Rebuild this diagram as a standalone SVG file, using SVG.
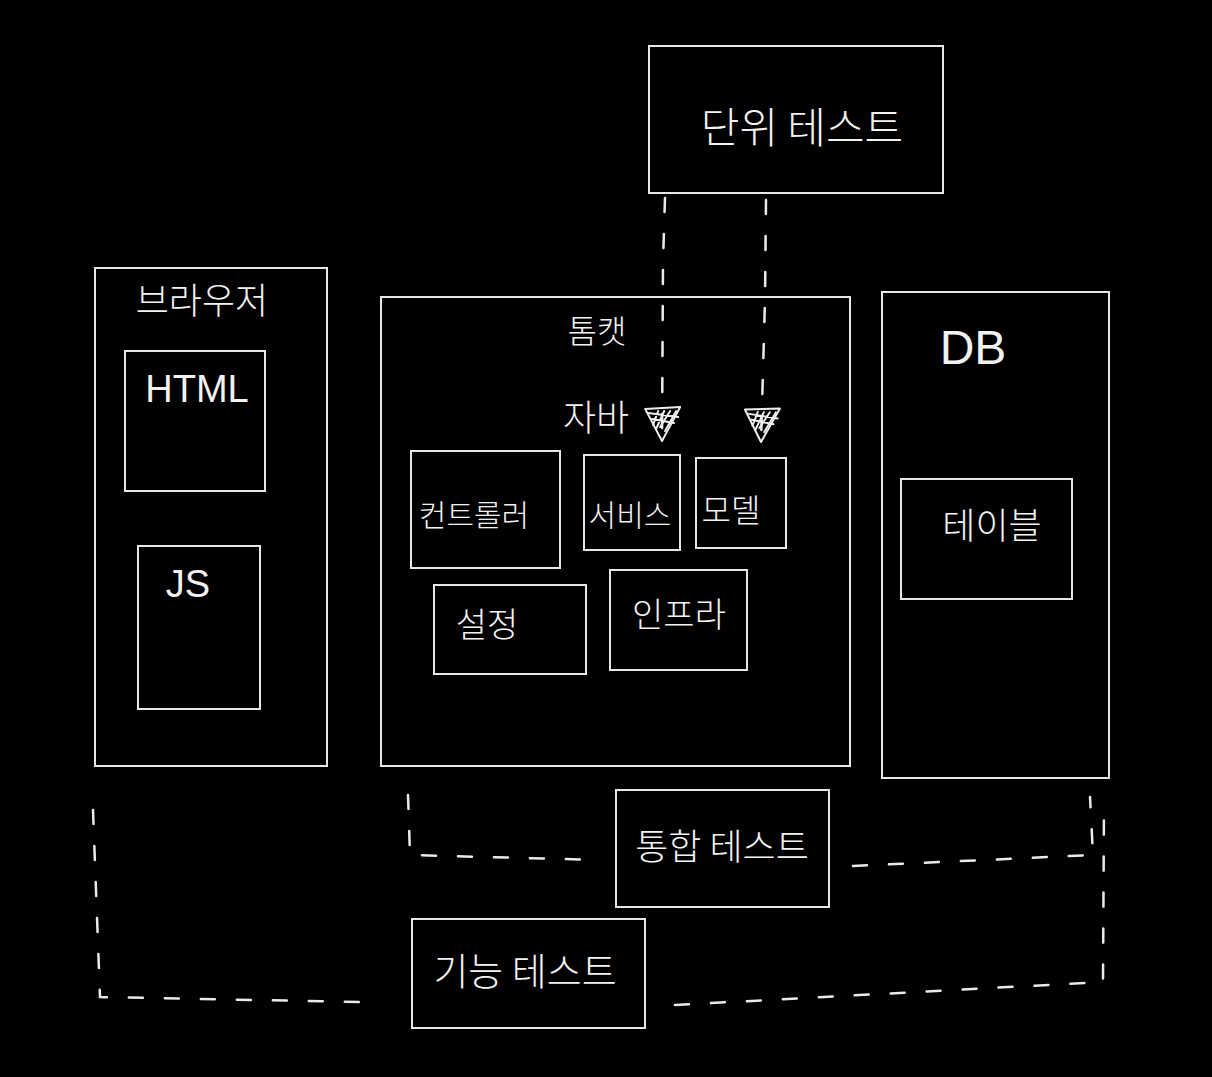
<svg xmlns="http://www.w3.org/2000/svg" width="1212" height="1077" viewBox="0 0 1212 1077">
<defs>
<marker id="arr" viewBox="-22 -22 44 44" markerWidth="44" markerHeight="44" refX="18" refY="0" orient="auto" markerUnits="userSpaceOnUse">
<g fill="none" stroke="#eee" stroke-width="2" stroke-linecap="round" stroke-linejoin="round">
<path d="M-16 -18 L18 0 L-14 17 Z"/>
<path d="M-12 -14 L8 -3 M-12 -8 L4 2 M-12 -2 L6 6 M-12 4 L2 9 M-6 -16 L-10 14 M0 -12 L-4 10"/>
</g>
</marker>
<style>
.box{fill:none;stroke:#e6e6e6;stroke-width:2}
.t{font-family:"Noto Sans CJK KR","Liberation Sans",sans-serif;font-weight:300;fill:#f2f2f2;text-anchor:middle}
.l{font-family:"Liberation Sans","Noto Sans CJK KR",sans-serif;font-weight:400;fill:#f2f2f2;text-anchor:middle}
.d{fill:none;stroke:#eaeaea;stroke-width:2.5;stroke-linecap:round;stroke-dasharray:14 22}
</style>
</defs>
<rect width="1212" height="1077" fill="#000"/>
<g id="connectors">
<path class="d" d="M665 198 L663 262 L662 441" marker-end="url(#arr)"/>
<path class="d" d="M766 200 L765 300 L761 442" marker-end="url(#arr)"/>
<path class="d" d="M408 795 L410 855 L600 860"/>
<path class="d" d="M853 866 L1093 855 L1090 797"/>
<path class="d" d="M93 810 L100 997 L360 1002"/>
<path class="d" d="M675 1005 L1103 982 L1104 806"/>
</g>
<g id="unit-test"><rect class="box" x="649" y="46" width="294" height="147"/><text class="t" x="802" y="143" font-size="42">단위 테스트</text></g>
<g id="browser"><rect class="box" x="95" y="268" width="232" height="498"/><text class="t" x="202" y="314" font-size="36">브라우저</text></g>
<g id="html"><rect class="box" x="125" y="351" width="140" height="140"/><text class="l" x="197" y="402" font-size="38" font-weight="300">HTML</text></g>
<g id="js"><rect class="box" x="138" y="546" width="122" height="163"/><text class="l" x="188" y="597" font-size="38">JS</text></g>
<g id="tomcat"><rect class="box" x="381" y="297" width="469" height="469"/><text class="t" x="597" y="343" font-size="32">톰캣</text></g>
<g id="java"><text class="t" x="596" y="431" font-size="36">자바</text></g>
<g id="controller"><rect class="box" x="411" y="451" width="149" height="117"/><text class="t" x="474" y="526" font-size="30">컨트롤러</text></g>
<g id="service"><rect class="box" x="584" y="455" width="96" height="95"/><text class="t" x="630" y="526" font-size="30">서비스</text></g>
<g id="model"><rect class="box" x="696" y="458" width="90" height="90"/><text class="t" x="731" y="522" font-size="32">모델</text></g>
<g id="config"><rect class="box" x="434" y="585" width="152" height="89"/><text class="t" x="487" y="637" font-size="34">설정</text></g>
<g id="infra"><rect class="box" x="610" y="570" width="137" height="100"/><text class="t" x="679" y="627" font-size="34">인프라</text></g>
<g id="db"><rect class="box" x="882" y="292" width="227" height="486"/><text class="l" x="973" y="364" font-size="48" font-weight="300">DB</text></g>
<g id="table"><rect class="box" x="901" y="479" width="171" height="120"/><text class="t" x="992" y="539" font-size="36">테이블</text></g>
<g id="integration-test"><rect class="box" x="616" y="790" width="213" height="117"/><text class="t" x="722" y="860" font-size="36">통합 테스트</text></g>
<g id="functional-test"><rect class="box" x="412" y="919" width="233" height="109"/><text class="t" x="525" y="985" font-size="38">기능 테스트</text></g>
</svg>
